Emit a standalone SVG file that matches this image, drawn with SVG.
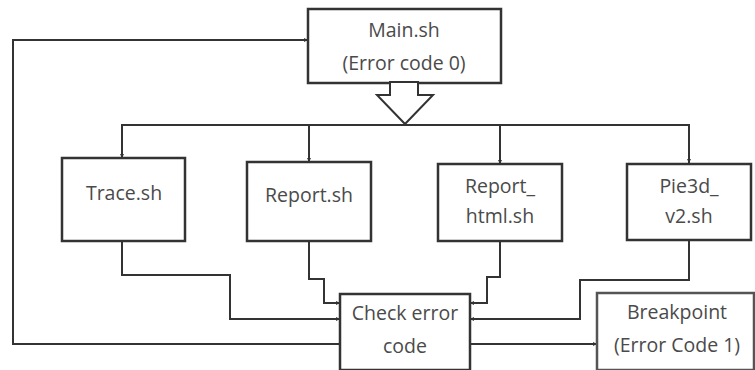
<svg xmlns="http://www.w3.org/2000/svg" width="755" height="370" viewBox="0 0 755 370">
<style>
.box{fill:#fff;stroke:#333;stroke-width:2.5}
.t{font-family:"Open Sans","Liberation Sans",sans-serif;font-size:19.5px;fill:#4a4a4a;text-anchor:middle}
.c{fill:none;stroke:#333;stroke-width:2}
</style>
<defs>
<marker id="ah" viewBox="0 0 10 10" refX="10" refY="5" markerWidth="4" markerHeight="4" orient="auto" markerUnits="userSpaceOnUse">
<path d="M0,0 L10,5 L0,10 z" fill="#333"/>
</marker>
</defs>
<rect width="755" height="370" fill="#fff"/>
<g id="connectors">
<polyline class="c" points="405,125 122,125 122,158" marker-end="url(#ah)"/>
<polyline class="c" points="309,125 309,162" marker-end="url(#ah)"/>
<polyline class="c" points="405,125 689,125 689,163" marker-end="url(#ah)"/>
<polyline class="c" points="500,125 500,164" marker-end="url(#ah)"/>
<polyline class="c" points="122,241 122,275 230,275 230,319 340,319" marker-end="url(#ah)"/>
<polyline class="c" points="309,241 309,279 324,279 324,303 340,303" marker-end="url(#ah)"/>
<polyline class="c" points="500,241 500,277 487,277 487,303 470,303" marker-end="url(#ah)"/>
<polyline class="c" points="689,240 689,280 580,280 580,319 470,319" marker-end="url(#ah)"/>
<polyline class="c" points="470,344 597,344" marker-end="url(#ah)"/>
<polyline class="c" points="340,344 13,344 13,40 308,40" marker-end="url(#ah)"/>
</g>
<g id="main">
<rect class="box" x="308" y="9" width="193" height="74"/>
<text class="t" x="404" y="37">Main.sh</text>
<text class="t" x="404" y="70">(Error code 0)</text>
<polygon points="390,82 418,82 418,95 433,95 405,124 377,95 390,95" fill="#fff" stroke="#333" stroke-width="2" stroke-linejoin="miter"/>
</g>
<g id="trace">
<rect class="box" x="62" y="158" width="123" height="83"/>
<text class="t" x="124" y="200">Trace.sh</text>
</g>
<g id="report">
<rect class="box" x="247" y="162" width="124" height="79"/>
<text class="t" x="309" y="202">Report.sh</text>
</g>
<g id="report_html">
<rect class="box" x="438" y="164" width="124" height="77"/>
<text class="t" x="500" y="193">Report_</text>
<text class="t" x="500" y="223">html.sh</text>
</g>
<g id="pie3d">
<rect class="box" x="627" y="164" width="124" height="76"/>
<text class="t" x="689" y="193">Pie3d_</text>
<text class="t" x="689" y="223">v2.sh</text>
</g>
<g id="check">
<rect class="box" x="340" y="294" width="130" height="76"/>
<text class="t" x="405" y="320">Check error</text>
<text class="t" x="405" y="353">code</text>
</g>
<g id="breakpoint">
<rect class="box" x="597" y="293" width="157" height="77" style="stroke:#555"/>
<text class="t" x="677" y="319">Breakpoint</text>
<text class="t" x="677" y="352">(Error Code 1)</text>
</g>
</svg>
